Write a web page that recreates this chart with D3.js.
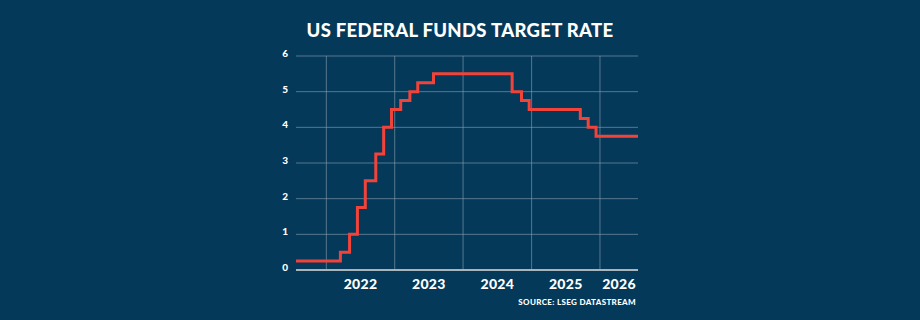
<!DOCTYPE html>
<html>
<head>
<meta charset="utf-8">
<script src="https://cdn.jsdelivr.net/npm/d3@7"></script>
<style>
  html, body { margin: 0; padding: 0; background: #04395a; }
  svg { display: block; }
</style>
</head>
<body>
<div id="wrapper"></div>
<script>
// data: Fed funds target rate (upper bound), step changes
const changeDates = [
  "2021-07-23", "2022-03-17", "2022-05-05", "2022-06-16", "2022-07-28",
  "2022-09-22", "2022-11-03", "2022-12-15", "2023-02-02", "2023-03-23",
  "2023-05-04", "2023-07-27", "2024-09-19", "2024-11-08", "2024-12-19",
  "2025-09-18", "2025-10-30", "2025-12-11", "2026-07-23"
]
const rates = [
  0.25, 0.5, 1.0, 1.75, 2.5,
  3.25, 4.0, 4.5, 4.75, 5.0,
  5.25, 5.5, 5.0, 4.75, 4.5,
  4.25, 4.0, 3.75, 3.75
]
const yTicks = [0, 1, 2, 3, 4, 5, 6]
const yearLabels = ["2022", "2023", "2024", "2025", "2026"]

const parseDate = d3.timeParse("%Y-%m-%d")
const dataset = changeDates.map((d, i) => ({ date: parseDate(d), rate: rates[i] }))

const dimensions = {
  width: 920,
  height: 320,
  margin: { top: 56, right: 282, bottom: 50, left: 296 },
}
dimensions.boundedWidth = dimensions.width - dimensions.margin.left - dimensions.margin.right
dimensions.boundedHeight = dimensions.height - dimensions.margin.top - dimensions.margin.bottom

const svg = d3.select("#wrapper").append("svg")
  .attr("width", dimensions.width)
  .attr("height", dimensions.height)

svg.append("rect")
  .attr("width", dimensions.width)
  .attr("height", dimensions.height)
  .attr("fill", "#04395a")

svg.append("text")
  .attr("x", 460)
  .attr("y", 37)
  .attr("text-anchor", "middle")
  .attr("fill", "#ffffff")
  .style("font-family", "Lato, sans-serif")
  .style("font-weight", 900)
  .style("font-size", "18.5px")
  .style("letter-spacing", "0.3px")
  .text("US FEDERAL FUNDS TARGET RATE")

const bounds = svg.append("g")
  .attr("transform", `translate(${dimensions.margin.left},${dimensions.margin.top})`)

const xScale = d3.scaleTime()
  .domain([parseDate("2021-07-23"), parseDate("2026-07-23")])
  .range([0, dimensions.boundedWidth])

const yScale = d3.scaleLinear()
  .domain([0, 6])
  .range([dimensions.boundedHeight, 0])

// horizontal grid
bounds.append("g")
  .selectAll("line")
  .data(yTicks.filter(d => d > 0))
  .join("line")
    .attr("x1", 0)
    .attr("x2", dimensions.boundedWidth)
    .attr("y1", d => yScale(d))
    .attr("y2", d => yScale(d))
    .attr("stroke", "#8fa3b0")
    .attr("stroke-opacity", 0.75)
    .attr("stroke-width", 0.8)

// vertical grid at each year start
const yearStarts = yearLabels.map(y => parseDate(y + "-01-01"))
bounds.append("g")
  .selectAll("line")
  .data(yearStarts)
  .join("line")
    .attr("x1", d => xScale(d))
    .attr("x2", d => xScale(d))
    .attr("y1", 0)
    .attr("y2", dimensions.boundedHeight)
    .attr("stroke", "#8fa3b0")
    .attr("stroke-opacity", 0.75)
    .attr("stroke-width", 0.8)

// y labels
bounds.append("g")
  .selectAll("text")
  .data(yTicks)
  .join("text")
    .attr("x", -8)
    .attr("y", d => yScale(d) + 1)
    .attr("text-anchor", "end")
    .attr("fill", "#ffffff")
    .style("font-family", "Lato, sans-serif")
    .style("font-weight", 900)
    .style("font-size", "10px")
    .text(d => d)

// year labels centred between year start and next (clipped at the edge)
const xEnd = xScale.domain()[1]
bounds.append("g")
  .selectAll("text")
  .data(yearLabels)
  .join("text")
    .attr("x", d => {
      const a = xScale(parseDate(d + "-01-01"))
      const next = d3.min([parseDate((+d + 1) + "-01-01"), xEnd])
      return (a + xScale(next)) / 2
    })
    .attr("y", dimensions.boundedHeight + 19)
    .attr("text-anchor", "middle")
    .attr("fill", "#ffffff")
    .style("font-family", "Lato, sans-serif")
    .style("font-weight", 900)
    .style("font-size", "14px")
    .style("letter-spacing", "0.3px")
    .text(d => d)

// bottom axis line
bounds.append("line")
  .attr("x1", 0)
  .attr("x2", dimensions.boundedWidth)
  .attr("y1", dimensions.boundedHeight)
  .attr("y2", dimensions.boundedHeight)
  .attr("stroke", "#a9b4bb")
  .attr("stroke-width", 2)

// rate line
const lineGenerator = d3.line()
  .x(d => xScale(d.date))
  .y(d => yScale(d.rate))
  .curve(d3.curveStepAfter)

bounds.append("path")
  .datum(dataset)
  .attr("d", lineGenerator)
  .attr("fill", "none")
  .attr("stroke", "#f2433a")
  .attr("stroke-width", 3)
  .attr("stroke-linejoin", "miter")

svg.append("text")
  .attr("x", dimensions.margin.left + dimensions.boundedWidth - 2)
  .attr("y", 305)
  .attr("text-anchor", "end")
  .attr("fill", "#ffffff")
  .style("font-family", "Lato, sans-serif")
  .style("font-weight", 900)
  .style("font-size", "8px")
  .style("letter-spacing", "0.35px")
  .text("SOURCE: LSEG DATASTREAM")
</script>
</body>
</html>
